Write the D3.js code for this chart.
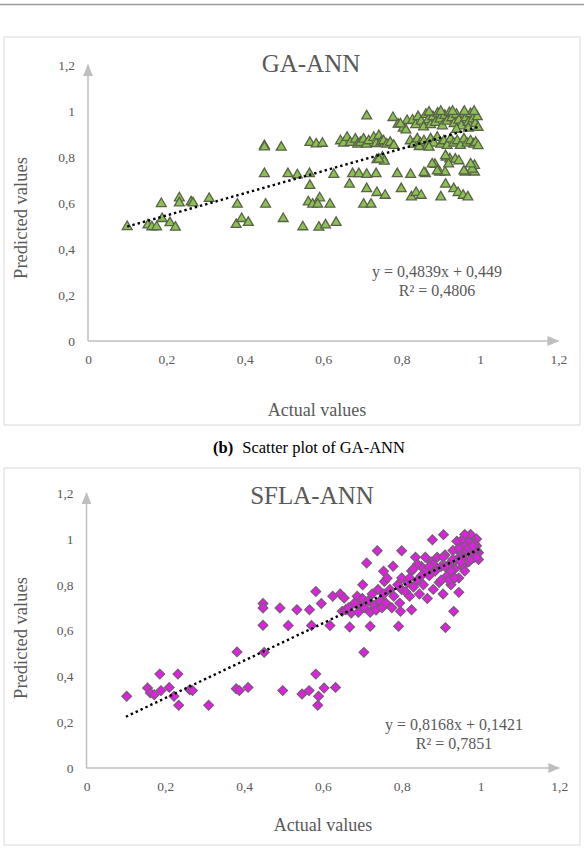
<!DOCTYPE html>
<html>
<head>
<meta charset="utf-8">
<script src="https://cdn.jsdelivr.net/npm/d3@7"></script>
<style>
  body { margin: 0; background: #fff; }
  text { font-family: "Liberation Serif", "Times New Roman", serif; }
</style>
</head>
<body>
<div id="chart"></div>
<script>
// axis ticks shared by both panels
const TICKS = [0, 0.2, 0.4, 0.6, 0.8, 1, 1.2]

// GA-ANN: [actual, predicted]
const gaPoints = [
  [0.10,0.497],[0.153,0.504],[0.163,0.496],[0.175,0.496],[0.187,0.597],[0.189,0.532],[0.209,0.514],
  [0.223,0.494],[0.233,0.622],[0.233,0.600],[0.263,0.604],[0.268,0.600],[0.309,0.619],[0.381,0.594],
  [0.378,0.506],[0.392,0.532],[0.409,0.515],[0.45,0.849],[0.45,0.843],[0.45,0.727],[0.453,0.594],
  [0.493,0.842],[0.498,0.532],[0.51,0.727],[0.534,0.722],[0.548,0.496],[0.566,0.863],[0.582,0.856],
  [0.598,0.859],[0.565,0.727],[0.566,0.676],[0.562,0.604],[0.573,0.594],[0.591,0.622],[0.586,0.594],
  [0.589,0.494],[0.606,0.504],[0.617,0.594],[0.627,0.724],[0.633,0.515],
  [0.644,0.87],[0.652,0.86],[0.661,0.885],[0.669,0.863],[0.682,0.877],[0.688,0.855],[0.695,0.863],
  [0.703,0.877],[0.71,0.855],[0.716,0.87],[0.729,0.885],[0.735,0.858],[0.742,0.892],[0.748,0.865],
  [0.754,0.87],[0.762,0.855],[0.771,0.863],[0.78,0.85],
  [0.667,0.681],[0.675,0.727],[0.691,0.727],[0.711,0.978],[0.711,0.662],[0.703,0.594],[0.722,0.594],
  [0.711,0.724],[0.735,0.727],[0.737,0.788],[0.751,0.799],[0.756,0.781],[0.742,0.79],[0.737,0.645],
  [0.758,0.633],[0.778,0.971],[0.789,0.727],[0.799,0.662],[0.791,0.942],[0.804,0.925],[0.811,0.917],
  [0.814,0.958],[0.797,0.943],[0.823,0.724],[0.825,0.626],[0.837,0.645],[0.85,0.633],[0.861,0.727],
  [0.857,0.732],[0.885,0.767],[0.897,0.734],[0.911,0.734],[0.9,0.626],[0.912,0.681],[0.914,0.799],
  [0.923,0.791],[0.878,0.769],[0.933,0.662],[0.944,0.645],[0.957,0.633],[0.969,0.626],[0.962,0.734],
  [0.986,0.734],[0.986,0.763],[0.98,0.747],[0.937,0.79],[0.946,0.783],[0.959,0.739],[0.976,0.769],
  [0.92,0.769],[0.912,0.805],[0.891,0.739],
  [0.822,0.87],[0.83,0.855],[0.84,0.878],[0.848,0.86],[0.857,0.87],[0.866,0.85],[0.874,0.878],
  [0.882,0.86],[0.891,0.885],[0.9,0.855],[0.908,0.87],[0.916,0.85],[0.925,0.878],[0.933,0.86],
  [0.942,0.87],[0.95,0.85],[0.959,0.878],[0.967,0.86],[0.976,0.87],[0.984,0.855],[0.989,0.863],
  [0.995,0.849],[0.845,0.845],[0.87,0.842],
  [0.828,0.96],[0.836,0.94],[0.842,0.975],[0.85,0.955],[0.856,0.93],[0.862,0.985],[0.868,0.962],
  [0.874,0.94],[0.88,0.975],[0.886,0.95],[0.892,0.99],[0.898,0.965],[0.904,0.935],[0.91,0.98],
  [0.916,0.955],[0.922,0.992],[0.928,0.97],[0.934,0.945],[0.94,0.985],[0.946,0.96],[0.952,0.935],
  [0.958,0.99],[0.964,0.97],[0.97,0.95],[0.976,0.988],[0.982,0.965],[0.988,0.945],[0.993,0.975],
  [0.995,0.928],[0.87,0.995],[0.9,0.998],[0.93,0.998],[0.96,0.998],[0.985,0.998],[0.94,0.92],[0.97,0.925]
]

// SFLA-ANN: [actual, predicted]
const sflaPoints = [
  [0.102,0.313],[0.155,0.349],[0.162,0.328],[0.172,0.32],[0.189,0.338],[0.186,0.41],[0.21,0.352],
  [0.222,0.313],[0.232,0.41],[0.234,0.274],[0.262,0.342],[0.269,0.338],[0.31,0.274],[0.38,0.346],
  [0.388,0.338],[0.41,0.352],[0.382,0.507],[0.448,0.718],[0.448,0.699],[0.448,0.623],[0.451,0.505],
  [0.491,0.699],[0.498,0.338],[0.512,0.622],[0.534,0.691],[0.547,0.323],[0.565,0.338],[0.566,0.691],
  [0.571,0.622],[0.582,0.771],[0.582,0.41],[0.589,0.313],[0.587,0.274],[0.596,0.718],[0.603,0.349],
  [0.618,0.622],[0.625,0.75],[0.632,0.352],[0.644,0.76],[0.654,0.742],[0.649,0.684],[0.658,0.691],
  [0.672,0.677],[0.668,0.616],[0.687,0.75],[0.691,0.718],[0.701,0.8],[0.704,0.505],[0.711,0.895],
  [0.72,0.619],[0.738,0.949],[0.754,0.859],[0.756,0.814],[0.763,0.829],[0.778,0.881],[0.792,0.619],
  [0.8,0.949],[0.797,0.684],[0.8,0.779],[0.825,0.691],[0.878,0.997],[0.906,1.019],[0.911,0.613],
  [0.932,0.684],[0.945,0.767],
  [0.665,0.70],[0.68,0.72],[0.69,0.68],[0.70,0.74],[0.705,0.70],[0.715,0.73],[0.72,0.68],[0.725,0.76],
  [0.73,0.71],[0.735,0.69],[0.74,0.78],[0.745,0.73],[0.75,0.70],[0.755,0.76],[0.76,0.72],[0.77,0.78],
  [0.775,0.70],[0.78,0.75],[0.79,0.80],[0.795,0.72],[0.80,0.83],[0.81,0.77],[0.815,0.81],[0.82,0.75],
  [0.825,0.86],[0.83,0.79],[0.835,0.92],[0.84,0.82],[0.845,0.76],[0.85,0.88],[0.855,0.80],[0.86,0.92],
  [0.865,0.74],[0.87,0.84],[0.875,0.90],[0.88,0.78],[0.885,0.86],[0.89,0.92],[0.895,0.81],[0.90,0.88],
  [0.905,0.76],[0.91,0.93],[0.915,0.84],[0.92,0.89],[0.925,0.80],[0.93,0.95],[0.935,0.87],[0.94,0.91],
  [0.945,0.83],[0.95,0.98],[0.955,0.88],[0.96,0.94],[0.965,1.01],[0.97,0.90],[0.975,0.96],[0.98,1.00],
  [0.985,0.92],[0.99,0.97],[0.995,0.94],[0.96,0.86],[0.97,0.99],[0.98,0.93],[0.99,1.0],[0.95,0.94],
  [0.94,0.99],[0.975,1.02],[0.985,0.98],[0.995,0.91],[0.96,0.97],[0.92,0.82],[0.88,0.89],[0.86,0.86],
  [0.84,0.89],[0.82,0.83],[0.90,0.82],[0.93,0.91],[0.905,0.92],[0.955,1.0],[0.99,0.95],
  [0.945,0.96],[0.955,0.92],[0.965,0.95],[0.975,0.91],[0.985,0.95],[0.96,1.02],[0.97,0.96],[0.98,0.97],
  [0.99,0.92],[0.95,0.90],[0.925,0.86],[0.935,0.83],[0.91,0.88],[0.87,0.88],[0.85,0.84],[0.83,0.87]
]

// trend lines [slope, intercept] and their x span
const gaFit = [0.4839, 0.449]
const sflaFit = [0.8168, 0.1421]
const fitRange = [0.1, 1]

const gaLabels = ["y = 0,4839x + 0,449", "R² = 0,4806"]
const sflaLabels = ["y = 0,8168x + 0,1421", "R² = 0,7851"]

const W = 584, H = 850
const GREY = "#595959"
const AXIS = "#bfbfbf"

const svg = d3.select("#chart").append("svg")
    .attr("width", W)
    .attr("height", H)

svg.append("defs").append("marker")
    .attr("id", "arrow")
    .attr("markerUnits", "userSpaceOnUse")
    .attr("markerWidth", 12).attr("markerHeight", 10)
    .attr("viewBox", "0 0 12 10")
    .attr("refX", 11).attr("refY", 5)
    .attr("orient", "auto")
  .append("path")
    .attr("d", "M0,0 L12,5 L0,10 Z")
    .attr("fill", AXIS)

// running header line at the very top of the page
svg.append("line")
    .attr("x1", 0).attr("x2", W)
    .attr("y1", 4.5).attr("y2", 4.5)
    .attr("stroke", "#9a9a9a")
    .attr("stroke-width", 1.5)

const fmt = d => String(+d.toFixed(1)).replace(".", ",")

function drawPanel(cfg) {
    const g = svg.append("g")

    g.append("rect")
        .attr("x", cfg.box[0]).attr("y", cfg.box[1])
        .attr("width", cfg.box[2]).attr("height", cfg.box[3])
        .attr("fill", "none")
        .attr("stroke", "#d9d9d9")
        .attr("stroke-width", 1)

    const x = d3.scaleLinear().domain([0, 1.2]).range(cfg.xRange)
    const y = d3.scaleLinear().domain([0, 1.2]).range(cfg.yRange)

    const xAxis = g.append("g")
        .attr("transform", `translate(0, ${y(0)})`)
        .call(d3.axisBottom(x).tickValues(TICKS).tickFormat(fmt).tickSize(0).tickPadding(13))
    const yAxis = g.append("g")
        .attr("transform", `translate(${x(0)}, 0)`)
        .call(d3.axisLeft(y).tickValues(TICKS).tickFormat(fmt).tickSize(0).tickPadding(13))

    ;[xAxis, yAxis].forEach(a => {
        a.select(".domain").remove()
        a.selectAll("text")
            .attr("fill", GREY)
            .style("font-size", "13.5px")
            .style("font-family", "'Liberation Serif', serif")
    })

    // axis lines with arrows
    g.append("line")
        .attr("x1", x(0)).attr("x2", x(1.2))
        .attr("y1", y(0)).attr("y2", y(0))
        .attr("stroke", AXIS).attr("stroke-width", 1.5)
        .attr("marker-end", "url(#arrow)")
    g.append("line")
        .attr("x1", x(0)).attr("x2", x(0))
        .attr("y1", y(0)).attr("y2", y(1.2))
        .attr("stroke", AXIS).attr("stroke-width", 1.5)
        .attr("marker-end", "url(#arrow)")

    g.append("text")
        .attr("x", cfg.titlePos[0]).attr("y", cfg.titlePos[1])
        .attr("text-anchor", "middle")
        .attr("fill", GREY)
        .style("font-size", "25px")
        .text(cfg.title)

    g.append("text")
        .attr("x", cfg.xLabelPos[0]).attr("y", cfg.xLabelPos[1])
        .attr("text-anchor", "middle")
        .attr("fill", GREY)
        .style("font-size", "18px")
        .text("Actual values")

    g.append("text")
        .attr("transform", `translate(${cfg.yLabelPos[0]}, ${cfg.yLabelPos[1]}) rotate(-90)`)
        .attr("text-anchor", "middle")
        .attr("fill", GREY)
        .style("font-size", "18.5px")
        .text("Predicted values")

    const sym = d3.symbol().type(cfg.symbol).size(cfg.symbolSize)
    g.append("g").selectAll("path")
        .data(cfg.points)
      .enter().append("path")
        .attr("d", sym)
        .attr("transform", d => `translate(${x(d[0])}, ${y(d[1])})${cfg.rotate ? " rotate(45)" : ""}`)
        .attr("fill", cfg.fill)
        .attr("stroke", cfg.stroke)
        .attr("stroke-width", 1.3)

    const line = d3.line().x(d => x(d)).y(d => y(cfg.fit[0] * d + cfg.fit[1]))
    g.append("path")
        .attr("d", line(fitRange))
        .attr("fill", "none")
        .attr("stroke", "#000")
        .attr("stroke-width", 2.4)
        .attr("stroke-dasharray", "2.4,3")

    cfg.eq.forEach((t, i) => {
        g.append("text")
            .attr("x", cfg.eqPos[0]).attr("y", cfg.eqPos[1] + i * 19)
            .attr("text-anchor", "middle")
            .attr("fill", GREY)
            .style("font-size", "16px")
            .text(t)
    })
}

drawPanel({
    box: [4, 37, 576, 388],
    xRange: [88, 88 + 1.2 * 392],
    yRange: [341, 341 - 1.2 * 230],
    title: "GA-ANN", titlePos: [311, 72],
    xLabelPos: [317, 416], yLabelPos: [27, 218],
    points: gaPoints, symbol: d3.symbolTriangle, symbolSize: 42, rotate: false,
    fill: "#8ac152", stroke: "#5a6148",
    fit: gaFit, eq: gaLabels, eqPos: [437, 277]
})

// caption between panels
svg.append("text")
    .attr("x", 309).attr("y", 453)
    .attr("text-anchor", "middle")
    .attr("fill", "#000")
    .style("font-size", "16.5px")
    .call(t => {
        t.append("tspan").style("font-weight", "bold").text("(b)")
        t.append("tspan").attr("dx", 9).text("Scatter plot of GA-ANN")
    })

drawPanel({
    box: [4, 468, 576, 377],
    xRange: [86.5, 86.5 + 1.2 * 394],
    yRange: [768, 768 - 1.2 * 229],
    title: "SFLA-ANN", titlePos: [312, 504],
    xLabelPos: [323, 831], yLabelPos: [27, 638],
    points: sflaPoints, symbol: d3.symbolSquare, symbolSize: 46, rotate: true,
    fill: "#e020e0", stroke: "#7a5a7a",
    fit: sflaFit, eq: sflaLabels, eqPos: [454, 730]
})
</script>
</body>
</html>
